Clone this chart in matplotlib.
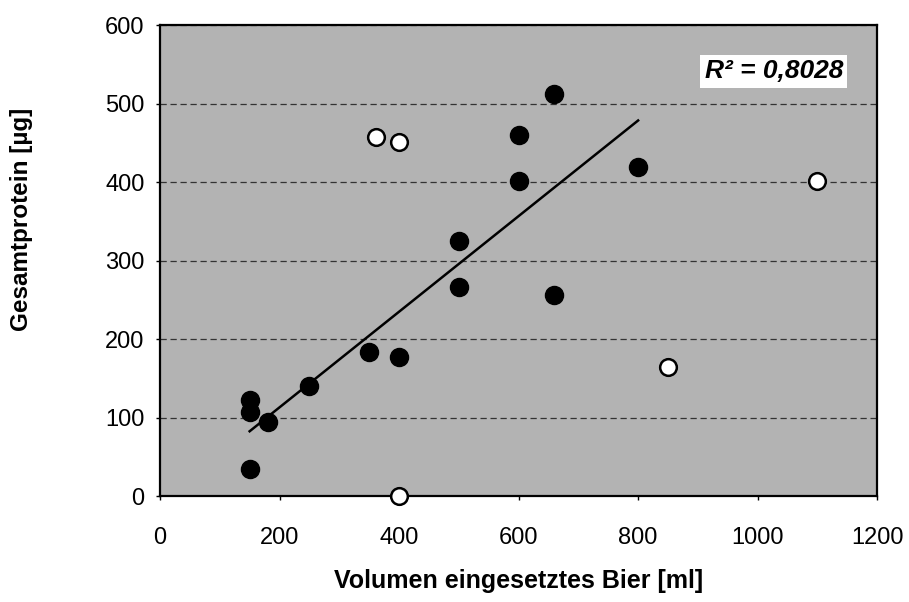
import numpy as np
import matplotlib.pyplot as plt

# gefuellte Punkte (in die Regression eingehend)
vol_filled = [150, 150, 150, 180, 250, 350, 400, 500, 500, 600, 600, 660, 660, 800]
prot_filled = [35, 107, 123, 95, 140, 183, 177, 325, 267, 460, 401, 513, 256, 420]

# offene Punkte (Ausreisser)
vol_open = [362, 400, 850, 1100, 400]
prot_open = [457, 451, 164, 401, 0]

r2_text = "R² = 0,8028"


def main():
    plt.rcParams["font.family"] = ["Liberation Sans", "DejaVu Sans"]

    fig = plt.figure(figsize=(9.09, 6.02), dpi=100)
    ax = fig.add_axes([0.176, 0.176, 0.789, 0.782])
    ax.set_facecolor("#b3b3b3")

    # Regressionsgerade ueber die gefuellten Punkte
    slope, inter = np.polyfit(vol_filled, prot_filled, 1)
    xs = np.array([min(vol_filled), max(vol_filled)])
    ax.plot(xs, slope * xs + inter, color="black", lw=1.8, zorder=3)

    ax.plot(vol_filled, prot_filled, "o", ms=13, color="black", zorder=4)
    ax.plot(vol_open, prot_open, "o", ms=12, mfc="white", mec="black",
            mew=1.8, zorder=5, clip_on=False)

    ax.set_xlim(0, 1200)
    ax.set_ylim(0, 600)
    ax.set_xticks(range(0, 1201, 200))
    ax.set_yticks(range(0, 601, 100))
    ax.yaxis.grid(True, linestyle=(0, (5, 3)), color="#333333", lw=0.9)
    ax.set_axisbelow(True)

    for s in ax.spines.values():
        s.set_linewidth(1.6)
    ax.tick_params(labelsize=17, length=3, width=1)
    ax.tick_params(axis="x", pad=19)
    ax.tick_params(axis="y", pad=8)

    ax.set_xlabel("Volumen eingesetztes Bier [ml]", fontsize=18,
                  fontweight="bold")
    ax.xaxis.set_label_coords(0.5, -0.155)
    ax.set_ylabel("Gesamtprotein [µg]", fontsize=17.5, fontweight="bold")
    ax.yaxis.set_label_coords(-0.177, 0.588)

    ax.text(0.856, 0.902, r2_text, transform=ax.transAxes, fontsize=19,
            fontweight="bold", fontstyle="italic", ha="center", va="center",
            bbox=dict(facecolor="white", edgecolor="none", pad=3), zorder=6)

    fig.savefig("out.png", dpi=100)


if __name__ == "__main__":
    main()
